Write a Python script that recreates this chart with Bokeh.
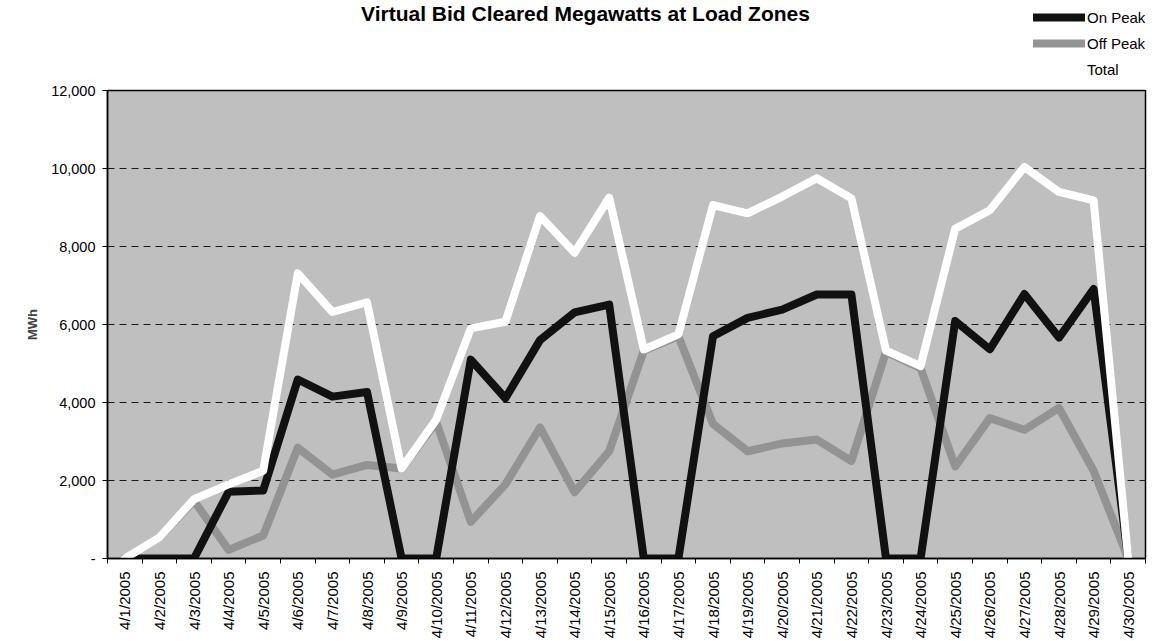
from bokeh.plotting import figure
from bokeh.models import (Range1d, FixedTicker, NumeralTickFormatter, Legend, LegendItem,
                          ColumnDataSource, Label)
from bokeh.layouts import column
from bokeh.embed import file_html
from bokeh.resources import INLINE
import math

title_text = "Virtual Bid Cleared Megawatts at Load Zones"

dates = ["4/1/2005", "4/2/2005", "4/3/2005", "4/4/2005", "4/5/2005", "4/6/2005",
         "4/7/2005", "4/8/2005", "4/9/2005", "4/10/2005", "4/11/2005", "4/12/2005",
         "4/13/2005", "4/14/2005", "4/15/2005", "4/16/2005", "4/17/2005", "4/18/2005",
         "4/19/2005", "4/20/2005", "4/21/2005", "4/22/2005", "4/23/2005", "4/24/2005",
         "4/25/2005", "4/26/2005", "4/27/2005", "4/28/2005", "4/29/2005", "4/30/2005"]

on_peak = [0, 0, 0, 1710, 1745, 4590, 4150, 4270, 0, 0,
           5100, 4110, 5600, 6310, 6510, 0, 0, 5700, 6170, 6380,
           6770, 6770, 0, 0, 6090, 5365, 6780, 5665, 6910, 0]

off_peak = [0, 540, 1480, 220, 590, 2840, 2150, 2400, 2310, 3500,
            940, 1900, 3360, 1700, 2750, 5330, 5700, 3450, 2750, 2950,
            3050, 2500, 5300, 4880, 2360, 3600, 3300, 3860, 2250, 0]

total = [0, 540, 1520, 1900, 2250, 7310, 6320, 6570, 2310, 3560,
         5900, 6070, 8780, 7840, 9250, 5360, 5745, 9060, 8850, 9280,
         9750, 9235, 5330, 4935, 8455, 8930, 10040, 9400, 9180, 0]

y_ticks = [0, 2000, 4000, 6000, 8000, 10000, 12000]

series_names = ["On Peak", "Off Peak", "Total"]
series_colors = ["#111111", "#939393", "white"]

# category positions (centre of each slot) computed from the index
xpos = [i + 0.5 for i in range(len(dates))]
bounds = list(range(len(dates) + 1))

src = ColumnDataSource(dict(x=xpos, on=on_peak, off=off_peak, total=total))

FONT = "Liberation Sans"
W = 1150
HEAD_H = 80
MAIN_H = 561
L, R, T, B = 107, 5, 10, 82

# ---------------- header: title + legend ----------------
head = figure(width=W, height=HEAD_H, output_backend="svg", toolbar_location=None,
              x_range=Range1d(0, W), y_range=Range1d(0, HEAD_H),
              x_axis_location=None, y_axis_location=None,
              min_border_left=L, min_border_right=R, min_border_top=0, min_border_bottom=0)
head.outline_line_color = None
head.grid.visible = False
head.background_fill_color = "white"
head.border_fill_color = "white"

# legend-only renderers (a single NaN point, so nothing is drawn in the header)
nan = float("nan")
leg_r = [head.line(x=[nan], y=[nan], line_color=c, line_width=8, line_cap="round")
         for c in series_colors]

legend = Legend(items=[LegendItem(label=n, renderers=[r]) for n, r in zip(series_names, leg_r)],
                location=(926, 2), orientation="vertical",
                background_fill_alpha=0, border_line_alpha=0,
                padding=0, margin=0, spacing=8,
                glyph_height=18, glyph_width=52, label_height=18, label_standoff=2,
                label_text_font=FONT, label_text_font_size="15px",
                label_text_color="black")
head.add_layout(legend)

head.add_layout(Label(x=585 - L, y=HEAD_H - 1, x_units="screen", y_units="screen",
                      text=title_text, text_align="center", text_baseline="top",
                      text_font=FONT, text_font_style="bold", text_font_size="21px",
                      text_color="black"))

# ---------------- main chart ----------------
p = figure(width=W, height=MAIN_H, output_backend="svg", toolbar_location=None,
           x_range=Range1d(0, len(dates)), y_range=Range1d(y_ticks[0], y_ticks[-1]),
           min_border_left=L, min_border_right=R, min_border_top=T, min_border_bottom=B)

p.background_fill_color = "#bfbfbf"
p.border_fill_color = "white"
p.outline_line_color = "black"
p.outline_line_width = 1.5

# grid
p.xgrid.visible = False
p.ygrid.ticker = FixedTicker(ticks=y_ticks)
p.ygrid.grid_line_color = "#1a1a1a"
p.ygrid.grid_line_dash = "7 5"
p.ygrid.grid_line_width = 1

# x axis
xa = p.xaxis[0]
xa.ticker = FixedTicker(ticks=xpos, minor_ticks=bounds)
xa.major_label_overrides = {x: d for x, d in zip(xpos, dates)}
xa.major_label_orientation = math.pi / 2
xa.major_tick_out = 0
xa.major_tick_in = 0
xa.minor_tick_out = 5
xa.minor_tick_in = 0
xa.minor_tick_line_color = "black"
xa.axis_line_color = "black"
xa.axis_line_width = 1.5
xa.major_label_standoff = 8
xa.major_label_text_font = FONT
xa.major_label_text_font_size = "15px"
xa.major_label_text_color = "black"

# y axis
ya = p.yaxis[0]
ya.ticker = FixedTicker(ticks=y_ticks)
ya.formatter = NumeralTickFormatter(format="0,0")
ya.major_label_overrides = {0: "-"}
ya.major_tick_out = 5
ya.major_tick_in = 0
ya.minor_tick_out = 0
ya.minor_tick_in = 0
ya.axis_line_color = "black"
ya.axis_line_width = 1.5
ya.major_label_standoff = 7
ya.major_label_text_font = FONT
ya.major_label_text_font_size = "14.5px"
ya.major_label_text_color = "black"
ya.axis_label = "MWh"
ya.axis_label_text_font = FONT
ya.axis_label_text_font_style = "bold"
ya.axis_label_text_font_size = "13px"
ya.axis_label_standoff = 8

# lines (drawn grey, black, then white on top)
p.line("x", "off", source=src, line_color=series_colors[1], line_width=8,
       line_join="round", line_cap="round")
p.line("x", "on", source=src, line_color=series_colors[0], line_width=8,
       line_join="round", line_cap="round")
p.line("x", "total", source=src, line_color=series_colors[2], line_width=8,
       line_join="round", line_cap="round")

layout = column(head, p, spacing=0)
open("out.html", "w").write(file_html(layout, INLINE))
